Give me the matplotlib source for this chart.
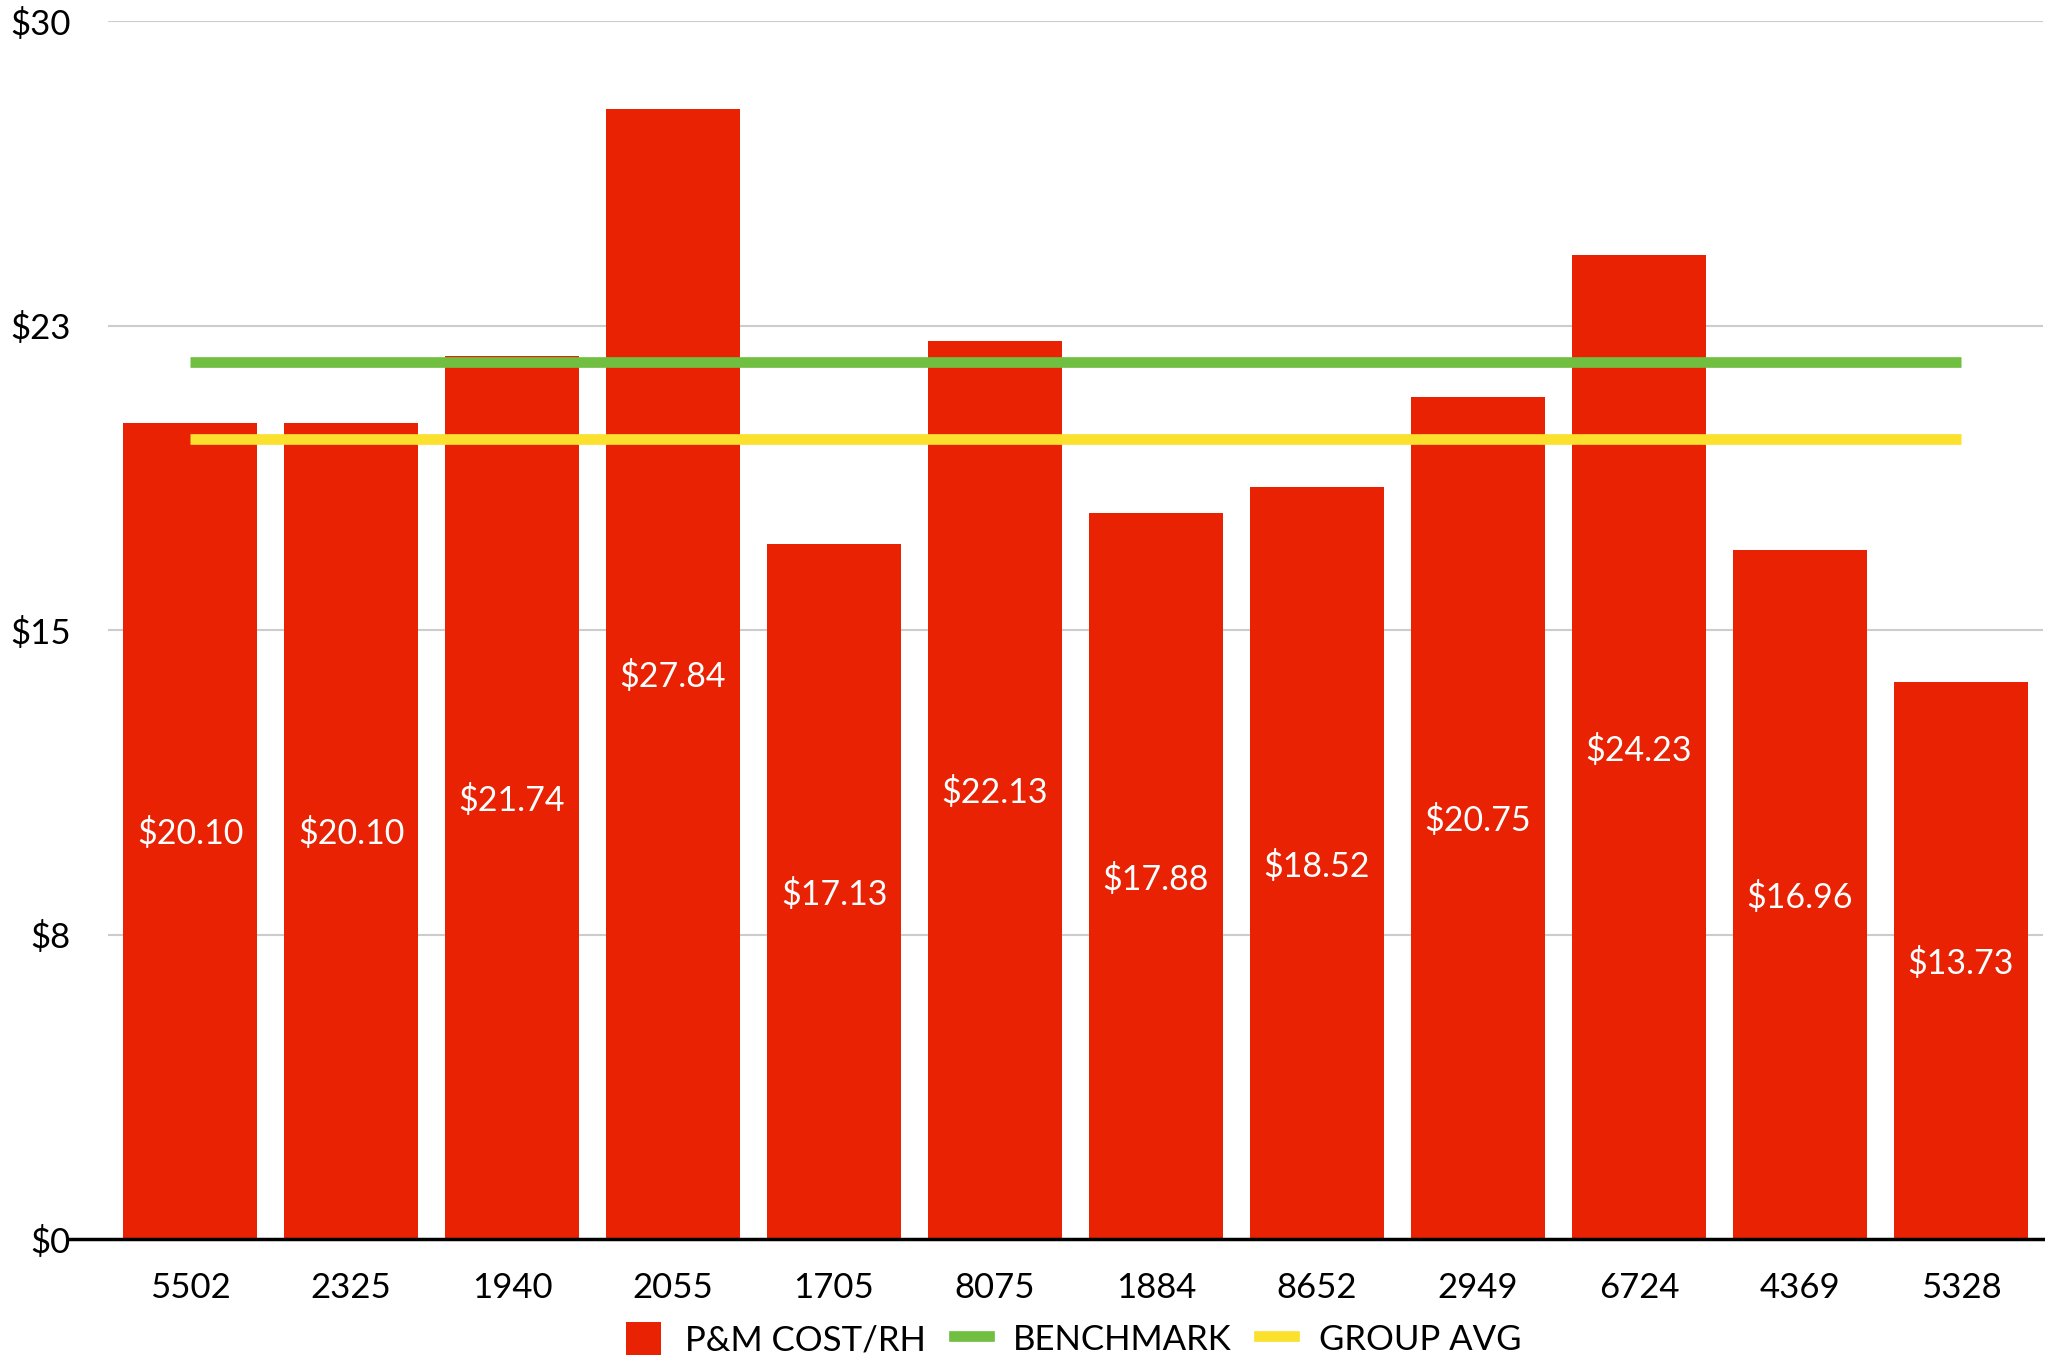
import matplotlib.pyplot as plt
from matplotlib.patches import Patch
from matplotlib.lines import Line2D

plt.rcParams['font.family'] = ['Lato', 'DejaVu Sans']

# data
units = ["5502", "2325", "1940", "2055", "1705", "8075",
         "1884", "8652", "2949", "6724", "4369", "5328"]
cost = [20.10, 20.10, 21.74, 27.84, 17.13, 22.13,
        17.88, 18.52, 20.75, 24.23, 16.96, 13.73]
benchmark = 21.6
group_avg = 19.7
y_ticks = [0, 7.5, 15, 22.5, 30]
y_labels = ["$0", "$8", "$15", "$23", "$30"]

red = "#E82203"
green = "#70BF41"
yellow = "#FBE02D"

fig = plt.figure(figsize=(20.45, 13.59), dpi=100)
ax = fig.add_axes([0.0528, 0.0883, 0.9462, 0.8962])

x = list(range(len(units)))
ax.bar(x, cost, width=0.833, color=red, zorder=2)

for xi, v in zip(x, cost):
    ax.text(xi, v / 2, "${:.2f}".format(v), color="white", fontsize=24.5,
            ha="center", va="center_baseline", zorder=4)

ax.plot([x[0], x[-1]], [benchmark, benchmark], color=green, lw=7.7,
        solid_capstyle="butt", zorder=3)
ax.plot([x[0], x[-1]], [group_avg, group_avg], color=yellow, lw=7.7,
        solid_capstyle="butt", zorder=3)

ax.set_xlim(-0.51, 11.51)
ax.set_ylim(0, 30)
ax.set_yticks(y_ticks)
ax.set_yticklabels(y_labels)
ax.set_xticks(x)
ax.set_xticklabels(units)
ax.tick_params(axis="both", length=0, labelsize=25, colors="black")
ax.tick_params(axis="y", pad=27)
ax.tick_params(axis="x", pad=24)

for t in y_ticks[1:]:
    ax.axhline(t, color="#CCCCCC", lw=1.5, zorder=1)

for s in ax.spines.values():
    s.set_visible(False)
# baseline, sticks out a bit to the left
ax.plot([-0.02, 1], [0, 0], transform=ax.transAxes, color="black", lw=2.5,
        clip_on=False, zorder=5)

handles = [Patch(facecolor=red, edgecolor="none"),
           Line2D([], [], color=green, lw=7.7),
           Line2D([], [], color=yellow, lw=7.7)]
fig.legend(handles, ["P&M COST/RH", "BENCHMARK", "GROUP AVG"],
           loc="center", bbox_to_anchor=(0.525, 0.0145), ncol=3,
           frameon=False, fontsize=25, handlelength=1.0, handleheight=1.05,
           handletextpad=0.7, columnspacing=0.8)

fig.savefig("out.png", dpi=100)
